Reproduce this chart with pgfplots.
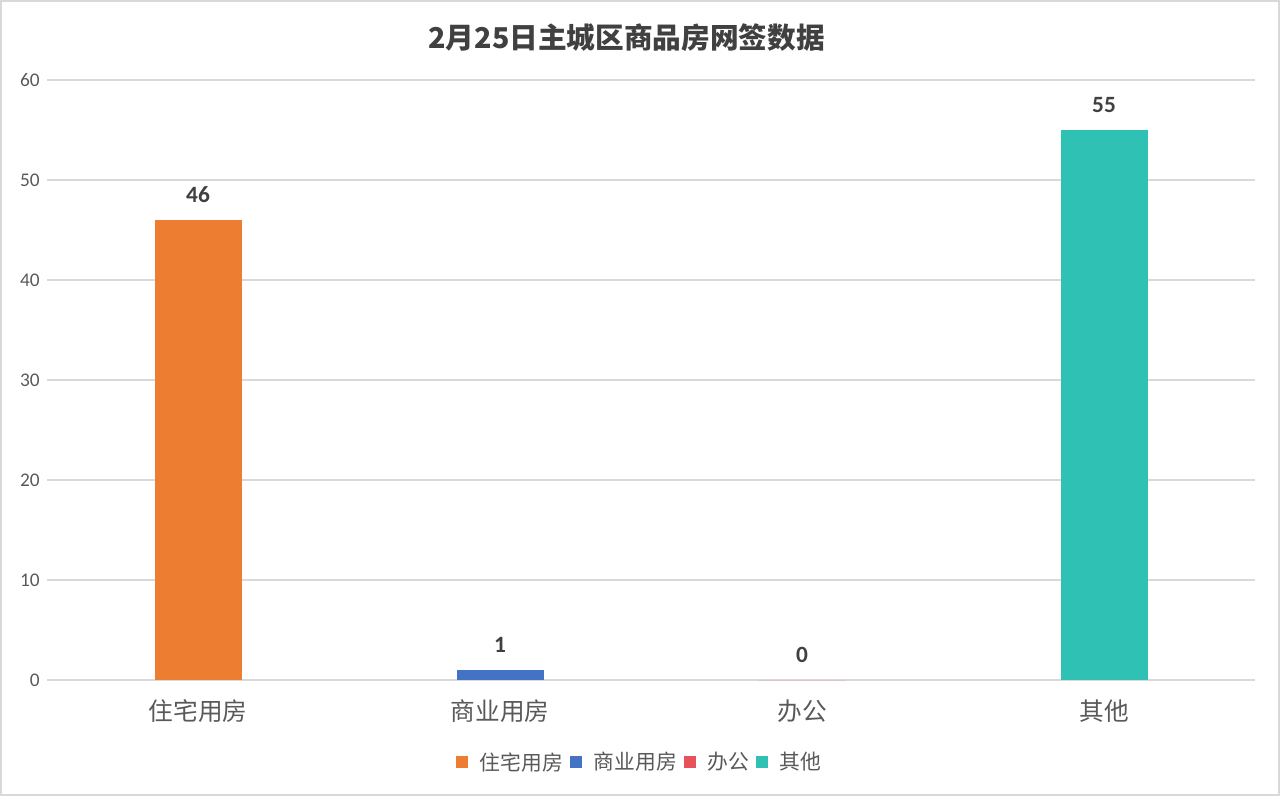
\documentclass[border=0pt]{standalone}
\usepackage{pgfplots}
\pgfplotsset{compat=1.18}
\usepackage{fontspec}
\setmainfont{Carlito}
\newfontfamily\cjk{Noto Sans CJK SC}

\definecolor{c1}{HTML}{ED7D31}
\definecolor{c2}{HTML}{4472C4}
\definecolor{c3}{HTML}{E8505B}
\definecolor{c4}{HTML}{2EC1B4}
\definecolor{txt}{HTML}{595959}
\definecolor{lbl}{HTML}{404040}
\definecolor{grd}{HTML}{D9D9D9}

\begin{document}
\begin{tikzpicture}
\draw[use as bounding box, draw=grd, line width=1.5pt] (0.75pt,0.75pt) rectangle (959.25pt,596.25pt);
\node[font=\cjk\fontsize{21.5}{26}\selectfont\bfseries, text=lbl] at (470pt,568.5pt) {2月25日主城区商品房网签数据};
\begin{axis}[
    at={(35.25pt,87pt)}, anchor=south west,
    scale only axis, width=906pt, height=450pt,
    ybar, bar width=65.25pt,
    xmin=-0.5, xmax=3.5, ymin=0, ymax=60,
    xtick={0,1,2,3},
    xticklabels={住宅用房,商业用房,办公,其他},
    ytick={0,10,...,60},
    ymajorgrids, grid style={grd, line width=1pt},
    axis x line*=bottom, axis y line*=left,
    x axis line style={draw=grd, line width=1pt, -},
    y axis line style={draw=none},
    major tick length=0pt,
    /pgf/number format/assume math mode=true,
    yticklabel style={font=\fontsize{14.5}{17}\selectfont, text=txt, xshift=-2pt},
    xticklabel style={font=\cjk\fontsize{18.5}{22}\selectfont, text=txt, yshift=-11pt},
    nodes near coords,
    every node near coord/.append style={font=\fontsize{17.5}{20}\selectfont\bfseries, text=lbl, yshift=9.5pt},
    legend columns=4,
    legend style={draw=none, at={(0.491,-0.137)}, anchor=center,
        font=\cjk\fontsize{15.6}{18}\selectfont, text=txt,
        /tikz/every odd column/.append style={column sep=7pt},
        /tikz/every even column/.append style={column sep=3pt}},
    legend image code/.code={\fill[#1] (0pt,-4.5pt) rectangle (9pt,4.5pt);},
]
\addplot[fill=c1, draw=none, bar shift=0pt] coordinates {(0,46)};
\addlegendentry{住宅用房}
\addplot[fill=c2, draw=none, bar shift=0pt] coordinates {(1,1)};
\addlegendentry{商业用房}
\addplot[fill=c3, draw=none, bar shift=0pt] coordinates {(2,0)};
\addlegendentry{办公}
\addplot[fill=c4, draw=none, bar shift=0pt] coordinates {(3,55)};
\addlegendentry{其他}
\end{axis}
\end{tikzpicture}
\end{document}
